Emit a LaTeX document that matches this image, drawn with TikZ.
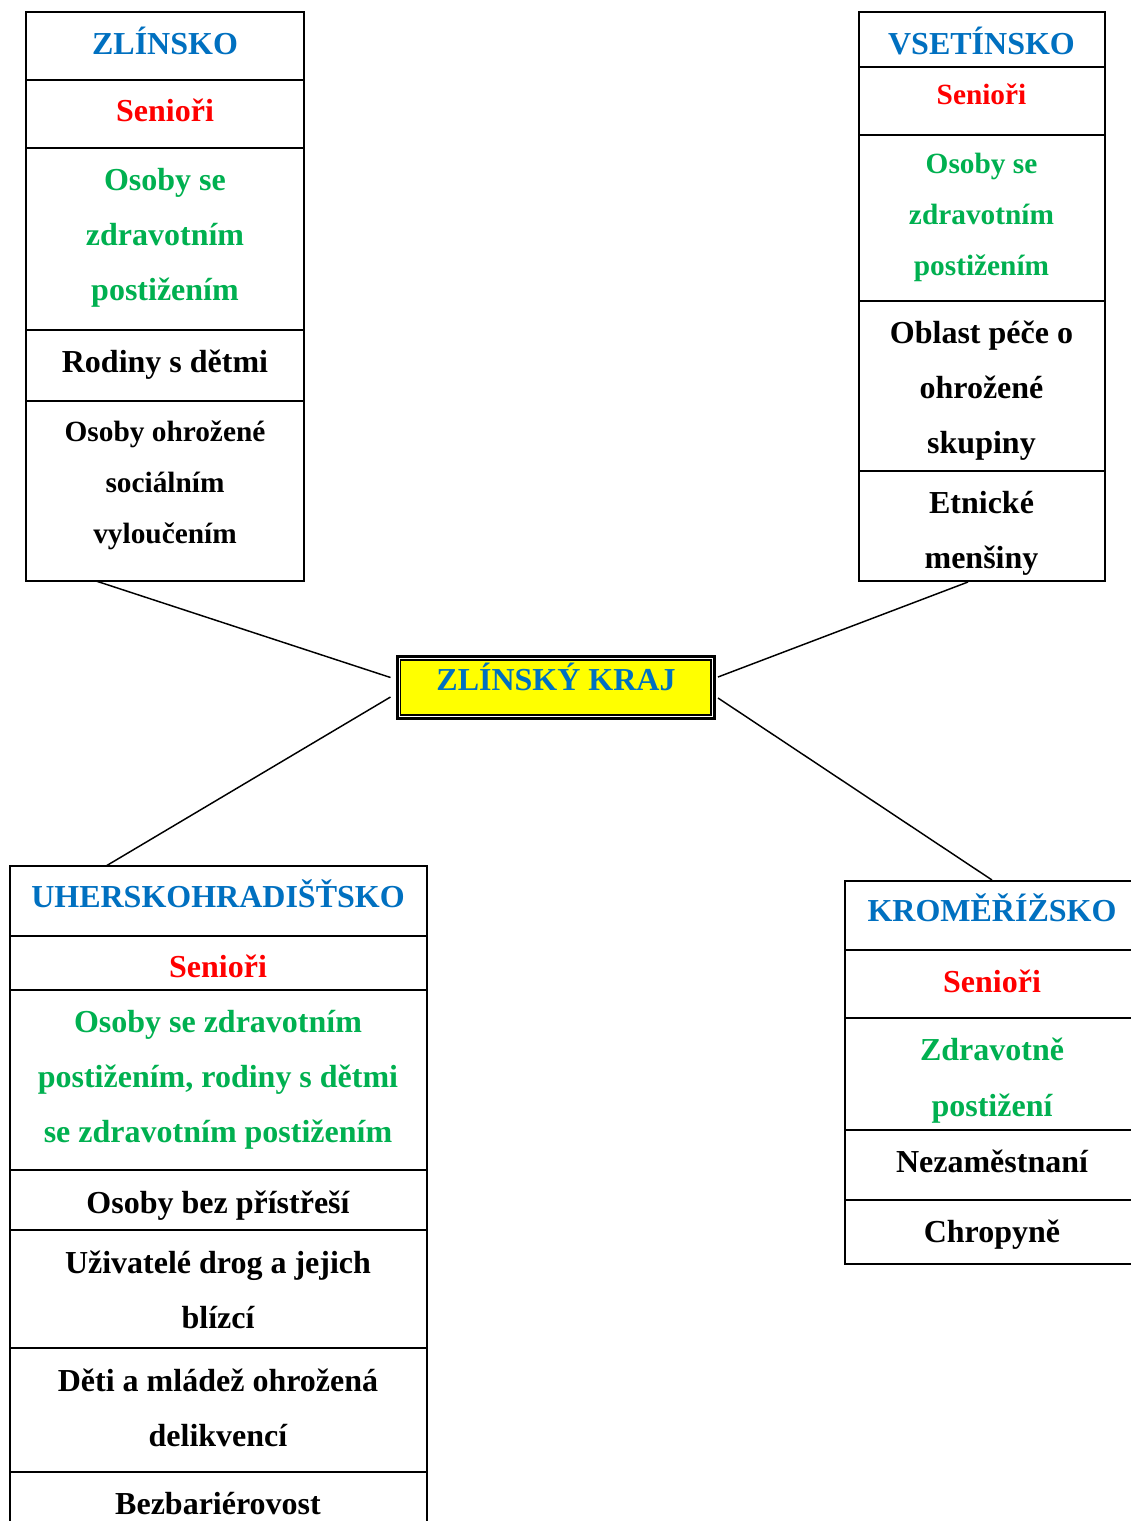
\documentclass[tikz,border=0pt]{standalone}
\usepackage{fontspec}
\setmainfont{Liberation Serif}
\definecolor{kblue}{HTML}{0070C0}
\definecolor{kred}{HTML}{FF0000}
\definecolor{kgreen}{HTML}{00B050}
\definecolor{kyellow}{HTML}{FFFF00}
\begin{document}
\begin{tikzpicture}[x=0.75pt,y=-0.75pt,
  frame/.style={line width=1.5pt},
  conn/.style={line width=1.1pt},
  big/.style={font=\fontsize{24}{29}\selectfont\bfseries, anchor=base, inner sep=0pt},
  small/.style={font=\fontsize{22}{26}\selectfont\bfseries, anchor=base, inner sep=0pt},
  head/.style={big,text=kblue},
  sen/.style={big,text=kred},
  sens/.style={small,text=kred},
  grn/.style={big,text=kgreen},
  grns/.style={small,text=kgreen},
  blk/.style={big,text=black},
  blks/.style={small,text=black}]
\useasboundingbox (0,0) rectangle (1131,1521);
\clip (0,0) rectangle (1131,1521);
\fill[white] (0,0) rectangle (1131,1521);

% ---------- ZLINSKO ----------
\draw[frame] (26,12) rectangle (304,581);
\foreach \yy in {80,148,330,401} \draw[frame] (26,\yy) -- (304,\yy);
\node[head] (zlh) at (165,54) {ZLÍNSKO};
\node[sen] (zls) at (165,121) {Senioři};
\node[grn] (zlg1) at (165,190) {Osoby se};
\node[grn] (zlg2) at (165,245) {zdravotním};
\node[grn] (zlg3) at (165,300) {postižením};
\node[blk] (zlr) at (165,372) {Rodiny s dětmi};
\node[blks] (zlo1) at (165,441) {Osoby ohrožené};
\node[blks] (zlo2) at (165,492) {sociálním};
\node[blks] (zlo3) at (165,543) {vyloučením};

% ---------- VSETINSKO ----------
\draw[frame] (858.5,12) rectangle (1105,581);
\foreach \yy in {67,135,301,471} \draw[frame] (858.5,\yy) -- (1105,\yy);
\node[head] (vsh) at (981.5,54) {VSETÍNSKO};
\node[sens] (vss) at (981.5,104) {Senioři};
\node[grns] (vsg1) at (981.5,173) {Osoby se};
\node[grns] (vsg2) at (981.5,224) {zdravotním};
\node[grns] (vsg3) at (981.5,275) {postižením};
\node[blk] (vso1) at (981.5,343) {Oblast péče o};
\node[blk] (vso2) at (981.5,398) {ohrožené};
\node[blk] (vso3) at (981.5,453) {skupiny};
\node[blk] (vse1) at (981.5,513) {Etnické};
\node[blk] (vse2) at (981.5,568) {menšiny};

% ---------- CENTER ----------
\draw[line width=2.25pt] (397,656.5) rectangle (714.5,718.5);
\draw[line width=0.9pt,fill=kyellow] (400.5,660) rectangle (711,715);
\node[head] (kraj) at (556,690) {ZLÍNSKÝ KRAJ};

% ---------- UHERSKOHRADISTSKO ----------
\draw[frame] (10,866) rectangle (426.5,1540);
\foreach \yy in {936,990,1170,1230,1348,1472} \draw[frame] (10,\yy) -- (426.5,\yy);
\node[head] (uhh) at (218,907) {UHERSKOHRADIŠŤSKO};
\node[sen] (uhs) at (218,977) {Senioři};
\node[grn] (uhg1) at (218,1032) {Osoby se zdravotním};
\node[grn] (uhg2) at (218,1087) {postižením, rodiny s dětmi};
\node[grn] (uhg3) at (218,1142) {se zdravotním postižením};
\node[blk] (uhb) at (218,1213) {Osoby bez přístřeší};
\node[blk] (uhu1) at (218,1273) {Uživatelé drog a jejich};
\node[blk] (uhu2) at (218,1328) {blízcí};
\node[blk] (uhd1) at (218,1391) {Děti a mládež ohrožená};
\node[blk] (uhd2) at (218,1446) {delikvencí};
\node[blk] (uhz) at (218,1514) {Bezbariérovost};

% ---------- KROMERIZSKO ----------
\draw[frame] (844.5,880.5) rectangle (1145,1264);
\foreach \yy in {950,1018,1130,1200} \draw[frame] (844.5,\yy) -- (1145,\yy);
\node[head] (krh) at (992,921) {KROMĚŘÍŽSKO};
\node[sen] (krs) at (992,992) {Senioři};
\node[grn] (krg1) at (992,1060) {Zdravotně};
\node[grn] (krg2) at (992,1116) {postižení};
\node[blk] (krn) at (992,1172) {Nezaměstnaní};
\node[blk] (krc) at (992,1242) {Chropyně};

% ---------- CONNECTORS ----------
\coordinate (c1a) at (96,581);   \coordinate (c1b) at (390.5,677.5);
\coordinate (c2a) at (968,582);  \coordinate (c2b) at (718,677);
\coordinate (c3a) at (106,866);  \coordinate (c3b) at (390.5,697);
\coordinate (c4a) at (992,880);  \coordinate (c4b) at (718,698);
\draw[conn] (c1a) -- (c1b);
\draw[conn] (c2a) -- (c2b);
\draw[conn] (c3a) -- (c3b);
\draw[conn] (c4a) -- (c4b);
\end{tikzpicture}
\end{document}
